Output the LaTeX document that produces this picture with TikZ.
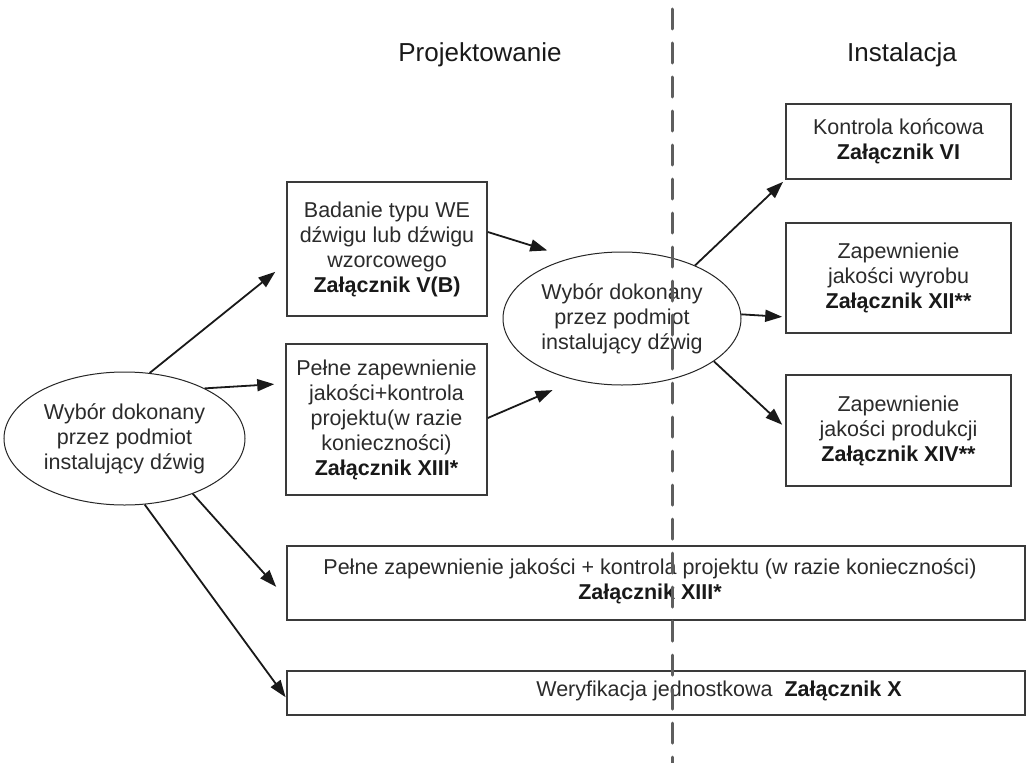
\documentclass[tikz,border=0pt]{standalone}
\usepackage{fontspec}
\setmainfont{Liberation Sans}
\usetikzlibrary{arrows.meta,shapes.geometric}
\definecolor{boxline}{HTML}{3A3A3A}
\definecolor{txt}{HTML}{2B2B2B}
\definecolor{dashgray}{HTML}{5E5E5E}
\begin{document}
\begin{tikzpicture}[x=1bp,y=-1bp,
  every node/.style={font=\fontsize{21.5bp}{25bp}\selectfont, text=txt, inner sep=0pt, align=center},
  box/.style={draw=boxline, line width=1.6bp, rectangle},
  choice/.style={draw=black!85, line width=1bp, ellipse},
  arr/.style={draw=black!90, line width=1.8bp, -{Triangle[length=17bp,width=12bp]}},
  title/.style={font=\fontsize{26bp}{30bp}\selectfont, text=black!90, anchor=base},
  dashline/.style={draw=dashgray, line width=3bp, dash pattern=on 20bp off 14bp, line cap=round},
  bf/.style={}
]
\fill[white] (0,0) rectangle (1026,763);
\useasboundingbox (0,0) rectangle (1026,763);

% titles
\node[title] (tproj) at (480,62) {Projektowanie};
\node[title] (tinst) at (902,62) {Instalacja};

% left choice
\node[choice, minimum width=241bp, minimum height=133bp] (L) at (124.5,438.5)
  {Wybór dokonany\\przez podmiot\\instalujący dźwig};

% design boxes
\node[box, minimum width=200bp, minimum height=134bp] (A) at (387,249)
  {Badanie typu WE\\dźwigu lub dźwigu\\wzorcowego\\\textbf{\color{black!90}Załącznik V(B)}};
\node[box, minimum width=201bp, minimum height=151bp] (B) at (386.5,419.5)
  {Pełne zapewnienie\\jakości+kontrola\\projektu(w razie\\konieczności)\\\textbf{\color{black!90}Załącznik XIII*}};

% middle choice
\node[choice, minimum width=238bp, minimum height=133bp] (M) at (622,318.5)
  {Wybór dokonany\\przez podmiot\\instalujący dźwig};

% installation boxes
\node[box, minimum width=225bp, minimum height=75bp] (C) at (898.5,141.5)
  {Kontrola końcowa\\\textbf{\color{black!90}Załącznik VI}};
\node[box, minimum width=225bp, minimum height=110bp] (D) at (898.5,278)
  {Zapewnienie\\jakości wyrobu\\\textbf{\color{black!90}Załącznik XII**}};
\node[box, minimum width=225bp, minimum height=111bp] (E) at (898.5,430.5)
  {Zapewnienie\\jakości produkcji\\\textbf{\color{black!90}Załącznik XIV**}};

% wide boxes
\node[box, minimum width=738bp, minimum height=74bp] (F) at (656,583) {};
\node (Ftext) at (650,581)
  {Pełne zapewnienie jakości + kontrola projektu (w razie konieczności)\\\textbf{\color{black!90}Załącznik XIII*}};
\node[box, minimum width=738bp, minimum height=44bp] (G) at (656,693) {};
\node (Gtext) at (719,691) {Weryfikacja jednostkowa\ \ \textbf{\color{black!90}Załącznik X}};

% arrows
\draw[arr, shorten >=14bp] (L.69) -- ([yshift=-14bp]A.west);
\draw[arr, shorten >=11bp] (L.32) -- ([yshift=36bp]B.west);
\draw[arr, shorten >=15bp] (L.-39.4) -- ([yshift=-15bp]F.west);
\draw[arr, shorten >=1bp] (L.-73.7) -- ([yshift=-5bp]G.west);

\draw[arr, shorten >=25bp] ([yshift=17bp]A.east) -- (M.130);
\draw[arr, shorten >=25bp] ([yshift=1.5bp]B.east) -- (M.233.4);

\draw[arr, shorten >=3bp] (M.36.6) -- (C.south west);
\draw[arr, shorten >=3bp] (M.2) -- ([yshift=-39bp]D.west);
\draw[arr, shorten >=4bp] (M.-25.8) -- ([yshift=3bp]E.west);

% dashed separator
\coordinate (dtop) at (672,9);
\coordinate (dbot) at (672,770);
\draw[dashline] (dtop) -- (dbot);
\end{tikzpicture}
\end{document}
